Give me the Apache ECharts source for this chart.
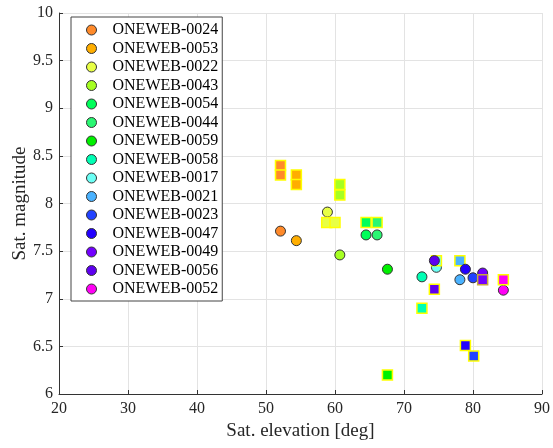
<!DOCTYPE html>
<html>
<head>
<meta charset="utf-8">
<script src="https://cdn.jsdelivr.net/npm/echarts@6/dist/echarts.min.js"></script>
<style>html,body{margin:0;padding:0;background:#fff}#c{width:553px;height:448px}</style>
</head>
<body>
<div id="c"></div>
<script>
const satNames = ['ONEWEB-0024','ONEWEB-0053','ONEWEB-0022','ONEWEB-0043','ONEWEB-0054','ONEWEB-0044','ONEWEB-0059','ONEWEB-0058','ONEWEB-0017','ONEWEB-0021','ONEWEB-0023','ONEWEB-0047','ONEWEB-0049','ONEWEB-0056','ONEWEB-0052'];
const satColors = ['#ff8a2a','#ffae00','#e8ff45','#a6ff22','#00ff5a','#2af772','#00f000','#00ffb4','#6bfff5','#4ab2ff','#2242ff','#2200ff','#7200ff','#5e00f0','#ff00f5'];
const circleElev = [52.1, 54.4, 58.9, 60.7, 64.5, 66.1, 67.6, 72.6, 74.7, 78.1, 80.0, 78.9, 81.4, 74.4, 84.4];
const circleMag  = [7.71, 7.61, 7.91, 7.46, 7.67, 7.67, 7.31, 7.23, 7.33, 7.20, 7.22, 7.31, 7.27, 7.40, 7.09];
const squareElev = [[52.1,52.1],[54.4,54.4],[58.8,60.0],[60.7,60.7],[64.5],[66.1],[67.6],[72.6],[74.7],[78.1],[80.1],[78.9],[81.4],[74.4],[84.4]];
const squareMag  = [[8.40,8.30],[8.30,8.20],[7.80,7.80],[8.20,8.09],[7.80],[7.80],[6.20],[6.90],[7.40],[7.40],[6.40],[6.51],[7.20],[7.10],[7.20]];
const xTicks = {min:20, max:90, interval:10};
const yTicks = {min:6, max:10, interval:0.5};

const FONT = 'Liberation Serif';
const series = [];
satNames.forEach((n, i) => {
  series.push({
    name: n, type: 'scatter', symbol: 'circle', symbolSize: 10,
    itemStyle: {color: satColors[i], borderColor: '#333', borderWidth: 1, opacity: 1},
    data: [[circleElev[i], circleMag[i]]],
    emphasis: {disabled: true}
  });
  series.push({
    name: n + ' sq', type: 'scatter', symbol: 'rect', symbolSize: 10,
    itemStyle: {color: satColors[i], borderColor: i === 12 ? '#c8a83c' : '#ffff00', borderWidth: 1.5, opacity: 1},
    data: squareElev[i].map((x, k) => [x, squareMag[i][k]]),
    emphasis: {disabled: true}
  });
});

const chart = echarts.init(document.getElementById('c'), null, {renderer: 'canvas'});
chart.setOption({
  animation: false,
  backgroundColor: '#fff',
  grid: {left: 59, right: 10, top: 13, bottom: 54},
  legend: {
    data: satNames.map(n => ({name: n, icon: 'circle'})),
    orient: 'vertical', left: 71, top: 17,
    padding: [5, 4, 4, 15],
    itemWidth: 10, itemHeight: 10, itemGap: 2.5,
    textStyle: {fontFamily: FONT, fontSize: 16, color: '#000', lineHeight: 16, padding: [0,0,0,11]},
    itemStyle: {borderColor: '#333', borderWidth: 1},
    borderColor: '#444', borderWidth: 1, backgroundColor: '#fff',
    selectedMode: false
  },
  xAxis: {
    type: 'value', min: xTicks.min, max: xTicks.max, interval: xTicks.interval,
    name: 'Sat. elevation [deg]', nameLocation: 'middle', nameGap: 28, nameMoveOverlap: false,
    nameTextStyle: {fontFamily: FONT, fontSize: 19, color: '#262626'},
    axisLine: {show: true, lineStyle: {color: '#333', width: 1}},
    axisTick: {show: true, inside: true, length: 4, lineStyle: {color: '#333'}},
    axisLabel: {fontFamily: FONT, fontSize: 16, color: '#262626', margin: 7},
    splitLine: {show: true, lineStyle: {color: '#e3e3e3', width: 1}}
  },
  yAxis: {
    type: 'value', min: yTicks.min, max: yTicks.max, interval: yTicks.interval,
    name: 'Sat. magnitude', nameLocation: 'middle', nameGap: 29, nameMoveOverlap: false,
    nameTextStyle: {fontFamily: FONT, fontSize: 19, color: '#262626'},
    axisLine: {show: true, lineStyle: {color: '#333', width: 1}},
    axisTick: {show: true, inside: true, length: 4, lineStyle: {color: '#333'}},
    axisLabel: {fontFamily: FONT, fontSize: 16, color: '#262626', margin: 6},
    splitLine: {show: true, lineStyle: {color: '#e3e3e3', width: 1}}
  },
  series: series
});
</script>
</body>
</html>
